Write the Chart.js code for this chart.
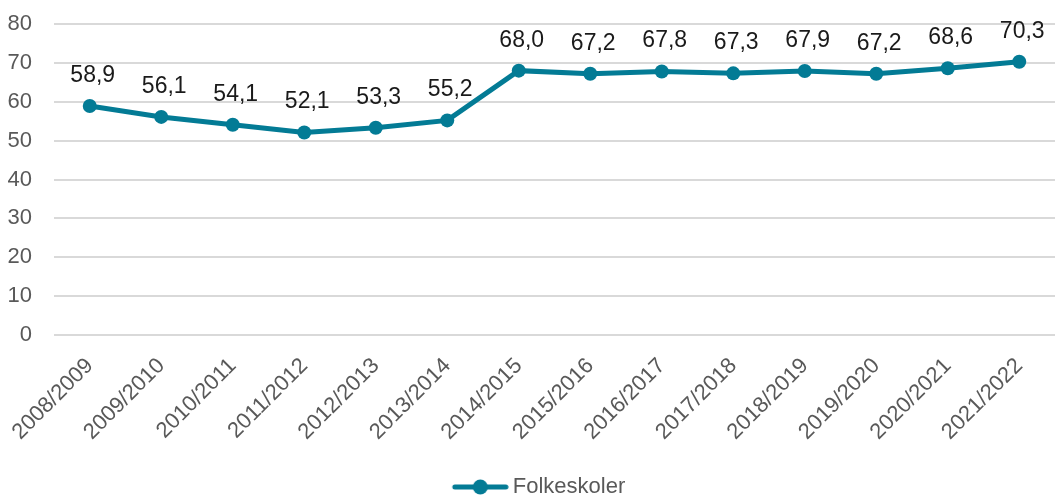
<!DOCTYPE html>
<html>
<head>
<meta charset="utf-8">
<script src="https://cdn.jsdelivr.net/npm/chart.js@4/dist/chart.umd.min.js"></script>
<style>
  html, body { margin: 0; padding: 0; background: #fff; }
  #wrap { width: 1055px; height: 495px; position: relative; }
</style>
</head>
<body>
<div id="wrap"><canvas id="skoler"></canvas></div>
<script>
// skoleår og andel (folkeskoler)
var years = ["2008/2009", "2009/2010", "2010/2011", "2011/2012", "2012/2013", "2013/2014", "2014/2015",
             "2015/2016", "2016/2017", "2017/2018", "2018/2019", "2019/2020", "2020/2021", "2021/2022"];
var folkeskoler = [58.9, 56.1, 54.1, 52.1, 53.3, 55.2, 68.0, 67.2, 67.8, 67.3, 67.9, 67.2, 68.6, 70.3];
var yTicks = [0, 10, 20, 30, 40, 50, 60, 70, 80];
var seriesName = 'Folkeskoler';

var teal = '#037b95';
var fontName = "'Liberation Sans', Arial, sans-serif";
var legendSize = 22;

// legend: line with a dot, placed so the group sits like the original
var tmp = document.createElement('canvas').getContext('2d');
tmp.font = legendSize + 'px ' + fontName;
var textW = tmp.measureText(seriesName).width;
var gap = legendSize / 2;
var boxW = Math.round(textW - 40);
var relL = boxW / 2 + gap - 60, relR = boxW / 2 + gap - 5;
var half = Math.ceil(Math.max(Math.abs(relL), Math.abs(relR))) + 1;
var icon = document.createElement('canvas');
icon.width = half * 2; icon.height = 18;
(function () {
  var c = icon.getContext('2d');
  var x1 = half + relL, x2 = half + relR;
  c.strokeStyle = teal; c.lineWidth = 5; c.lineCap = 'round';
  c.beginPath(); c.moveTo(x1 + 2, 9); c.lineTo(x2 - 2, 9); c.stroke();
  c.fillStyle = teal;
  c.beginPath(); c.arc((x1 + x2) / 2, 9, 7.5, 0, Math.PI * 2); c.fill();
})();

// value labels above the points
var valueLabels = {
  id: 'valueLabels',
  afterDatasetsDraw: function (chart) {
    var ctx = chart.ctx;
    var meta = chart.getDatasetMeta(0);
    var vals = chart.data.datasets[0].data;
    ctx.save();
    ctx.font = '23px ' + fontName;
    ctx.fillStyle = '#1a1a1a';
    ctx.textAlign = 'center';
    ctx.textBaseline = 'alphabetic';
    meta.data.forEach(function (pt, i) {
      ctx.fillText(vals[i].toFixed(1).replace('.', ','), pt.x + 3, pt.y - 24);
    });
    ctx.restore();
  }
};

var ctx = document.getElementById("skoler");
var chart = new Chart(ctx, {
  type: 'line',
  data: {
    labels: years,
    datasets: [{
      label: seriesName,
      data: folkeskoler,
      borderColor: teal,
      backgroundColor: teal,
      borderWidth: 5,
      pointRadius: 7,
      pointHoverRadius: 7,
      pointBackgroundColor: teal,
      pointBorderWidth: 0,
      pointStyle: 'circle',
      tension: 0,
      clip: false
    }]
  },
  options: {
    responsive: true,
    maintainAspectRatio: false,
    animation: false,
    layout: { autoPadding: false, padding: { top: 24, right: 0, bottom: -13, left: 0 } },
    plugins: {
      legend: {
        position: 'bottom',
        labels: {
          usePointStyle: true,
          pointStyleWidth: boxW,
          padding: 6,
          color: '#595959',
          font: { family: fontName, size: legendSize },
          generateLabels: function (chart) {
            return [{
              text: seriesName,
              pointStyle: icon,
              fillStyle: teal,
              strokeStyle: teal,
              lineWidth: 0,
              fontColor: '#595959',
              datasetIndex: 0
            }];
          }
        }
      },
      tooltip: { enabled: false }
    },
    scales: {
      x: {
        offset: true,
        grid: { display: false },
        border: { display: false },
        ticks: {
          color: '#595959',
          font: { family: fontName, size: 22 },
          minRotation: 45,
          maxRotation: 45,
          padding: 10
        },
        afterFit: function (scale) {
          scale.height = 135;
          scale.paddingLeft = 0;
          scale.paddingRight = 0;
        }
      },
      y: {
        min: 0,
        max: 80,
        afterBuildTicks: function (scale) {
          scale.ticks = yTicks.map(function (v) { return { value: v }; });
        },
        grid: { color: '#d9d9d9', lineWidth: 2, drawTicks: false },
        border: { display: false },
        ticks: {
          color: '#595959',
          font: { family: fontName, size: 22 },
          padding: 22
        },
        afterFit: function (scale) {
          scale.width = 54;
          scale.paddingTop = 0;
          scale.paddingBottom = 0;
        }
      }
    }
  },
  plugins: [valueLabels]
});
</script>
</body>
</html>
